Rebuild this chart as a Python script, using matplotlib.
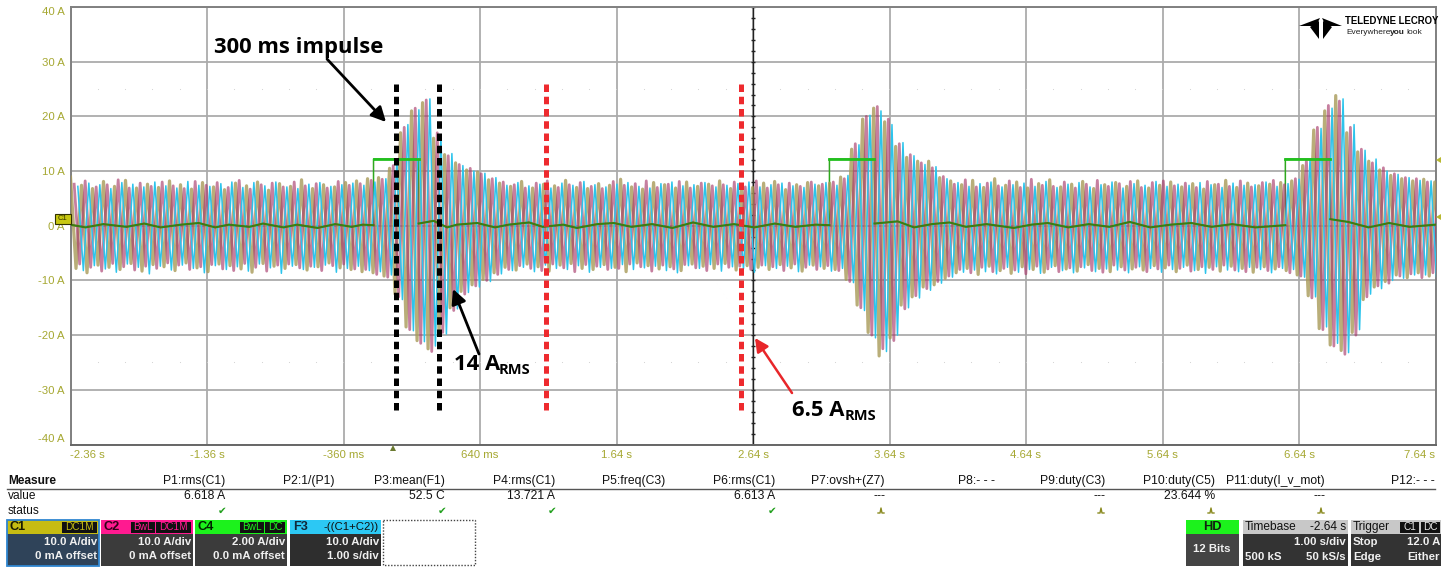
#Oscilloscope capture - motor phase currents with 300 ms impulses

import numpy as np
import matplotlib.pyplot as plt
from matplotlib.patches import Rectangle, Polygon

W, H = 1453, 567
plt.rcParams['font.family'] = ['Liberation Sans', 'DejaVu Sans']

#Axis values
y_ticks = [40, 30, 20, 10, 0, -10, -20, -30, -40]
y_labels = ['40 A', '30 A', '20 A', '10 A', '0 A', '-10 A', '-20 A', '-30 A', '-40 A']
x_ticks = [-2.36, -1.36, -0.36, 0.64, 1.64, 2.64, 3.64, 4.64, 5.64, 6.64, 7.64]
x_labels = ['-2.36 s', '-1.36 s', '-360 ms', '640 ms', '1.64 s', '2.64 s', '3.64 s', '4.64 s', '5.64 s', '6.64 s', '7.64 s']

#Peak of each electrical cycle (one value per cycle)
cycle_period = 0.0806
t_start = -2.36

c1_top = [8.9, 7.4, 6.8, 8.1, 7.2, 8.3, 6.9, 7.6, 7.0, 8.2, 7.5, 6.7, 7.9, 7.1, 6.6, 7.8, 7.3, 8.0, 6.5, 7.7, 7.2, 8.4, 6.8, 7.5, 7.1, 7.9, 8.2, 8.6,
          8.8, 10.5, 17.0, 21.0, 22.5, 16.0, 13.0, 11.5, 10.2, 9.8, 8.4,
          7.8, 7.2, 8.1, 6.9, 7.6, 7.3, 8.3, 7.0, 6.8, 7.7, 7.4, 8.5, 7.1, 6.7, 7.9, 7.5, 6.9, 8.0, 7.2, 7.6, 8.2, 6.8, 7.4, 7.0, 7.8, 8.1, 6.6, 7.5, 7.9, 7.3,
          7.8, 8.9, 14.0, 19.5, 21.5, 19.0, 14.5, 12.5, 11.8, 11.8, 8.8,
          8.2, 7.5, 8.3, 7.0, 8.6, 7.4, 8.0, 6.9, 7.7, 8.4, 7.1, 7.6, 8.1, 6.8, 7.5, 7.9, 7.2, 8.2, 6.9, 7.4, 8.0, 7.1, 7.7, 6.7, 7.5, 8.3, 7.0, 7.8, 7.3, 7.6, 7.9,
          8.2, 11.0, 17.5, 21.0, 23.8, 17.0, 13.5, 11.8, 10.2, 9.2, 8.6, 8.2, 8.5, 8.0]
c2_top = [7.6, 8.2, 7.1, 7.5, 8.4, 6.9, 7.8, 7.2, 8.0, 7.3, 6.8, 8.1, 7.4, 7.9, 7.0, 8.3, 6.7, 7.5, 7.8, 7.1, 8.0, 7.3, 7.7, 6.9, 8.1, 7.4, 7.7, 8.3,
          8.5, 11.0, 18.0, 21.5, 23.0, 17.0, 12.8, 11.2, 10.5, 9.5, 8.6,
          8.0, 7.5, 6.9, 7.8, 8.2, 7.0, 7.5, 7.9, 7.2, 6.8, 8.1, 7.4, 7.7, 8.2, 7.0, 7.6, 8.1, 6.9, 7.8, 7.3, 7.5, 8.0, 7.1, 8.2, 6.9, 7.5, 7.8, 7.2, 8.0, 7.6,
          8.0, 8.6, 15.0, 20.0, 21.8, 19.5, 15.0, 13.0, 11.5, 10.6, 9.0,
          7.6, 8.4, 7.1, 7.8, 7.3, 8.2, 7.0, 8.5, 7.4, 7.2, 8.0, 6.9, 7.6, 8.3, 7.2, 7.7, 8.1, 7.0, 7.9, 8.2, 7.3, 7.8, 7.0, 8.1, 7.6, 7.2, 8.2, 7.1, 7.9, 8.3, 7.5,
          8.6, 12.0, 18.0, 22.0, 22.8, 18.0, 14.0, 11.5, 10.6, 9.5, 8.8, 8.6, 8.0, 8.5]
f3_top = [7.2, 7.8, 7.5, 6.8, 7.9, 7.6, 7.1, 8.0, 7.3, 6.9, 8.1, 7.4, 7.2, 7.7, 8.0, 7.0, 7.9, 7.3, 8.0, 7.1, 6.8, 7.6, 7.9, 7.2, 7.5, 7.8, 7.4, 8.0,
          8.6, 12.0, 18.5, 21.2, 23.2, 16.5, 13.2, 11.0, 10.0, 9.6, 8.8,
          7.4, 7.9, 7.3, 7.6, 6.9, 7.8, 7.4, 8.1, 7.5, 7.1, 7.6, 7.9, 7.2, 6.9, 7.7, 8.0, 7.3, 7.5, 7.9, 7.1, 7.4, 7.7, 8.0, 7.1, 7.5, 7.8, 7.3, 7.0, 7.6, 7.9,
          7.4, 9.2, 14.8, 20.2, 21.0, 18.5, 15.2, 12.8, 11.2, 10.8, 8.6,
          7.9, 7.2, 7.7, 8.0, 7.1, 7.5, 7.8, 7.2, 8.1, 7.0, 7.6, 7.9, 7.1, 7.5, 8.0, 6.9, 7.7, 7.4, 8.1, 7.2, 7.6, 7.4, 7.9, 7.5, 7.0, 7.8, 7.4, 7.5, 8.0, 7.2, 7.7,
          8.5, 12.2, 17.8, 21.5, 23.2, 18.5, 13.8, 12.2, 10.0, 9.4, 8.8, 8.3, 8.2, 8.6]

c1_bot = [-7.8, -8.6, -7.2, -7.6, -8.0, -6.9, -8.3, -7.1, -7.5, -8.2, -6.8, -7.7, -8.4, -7.0, -7.3, -7.9, -8.5, -6.9, -7.4, -7.8, -7.1, -8.1, -7.5, -6.8, -7.7, -8.0, -8.4, -8.6,
          -9.2, -12.5, -18.5, -21.0, -22.5, -20.0, -15.0, -12.0, -10.8, -9.8, -8.6,
          -7.6, -8.1, -7.0, -7.5, -8.3, -7.2, -6.9, -7.8, -8.0, -7.1, -7.6, -8.4, -6.8, -7.3, -7.9, -7.5, -8.2, -7.0, -7.4, -7.8, -6.9, -8.1, -7.3, -7.6, -8.0, -7.1, -7.7, -8.3, -7.2, -7.8,
          -8.0, -9.8, -14.5, -19.5, -23.8, -20.5, -14.5, -13.0, -11.2, -10.8, -9.6,
          -8.6, -7.8, -8.9, -7.4, -8.2, -8.7, -7.5, -8.0, -8.5, -7.3, -7.9, -8.3, -7.1, -7.8, -8.4, -7.5, -7.9, -8.1, -7.3, -7.7, -8.4, -7.2, -8.0, -7.6, -8.3, -7.4, -7.8, -8.5, -7.5, -7.9, -8.2,
          -9.0, -12.8, -18.8, -21.8, -22.8, -19.5, -13.5, -11.2, -10.2, -9.0, -9.5, -8.6, -9.2, -8.8]
c2_bot = [-7.0, -7.6, -8.3, -6.9, -7.5, -8.1, -7.4, -7.8, -6.8, -7.2, -8.0, -7.5, -7.1, -7.9, -8.2, -6.9, -7.6, -8.3, -7.2, -7.0, -7.7, -7.4, -8.2, -7.3, -7.0, -7.9, -8.0, -8.9,
          -9.4, -13.0, -19.0, -21.5, -23.0, -19.5, -15.5, -12.5, -11.0, -10.0, -8.9,
          -8.0, -7.3, -7.8, -8.2, -7.0, -7.7, -8.4, -7.1, -7.4, -8.0, -7.8, -7.0, -7.5, -8.3, -7.2, -7.9, -7.1, -7.7, -8.2, -7.0, -7.6, -7.4, -8.0, -7.2, -7.5, -8.2, -7.0, -7.6, -8.0, -7.3,
          -8.2, -10.2, -15.0, -20.0, -22.5, -21.0, -15.2, -12.8, -11.5, -10.2, -9.2,
          -8.0, -8.6, -7.6, -8.4, -7.8, -8.1, -8.8, -7.4, -7.9, -8.4, -7.7, -7.5, -8.2, -8.5, -7.2, -8.1, -7.6, -8.4, -7.9, -7.2, -7.8, -8.3, -7.5, -8.0, -7.2, -8.1, -8.4, -7.6, -8.2, -7.5, -8.6,
          -9.2, -13.2, -19.0, -22.0, -23.5, -20.0, -13.0, -11.0, -10.5, -9.2, -8.8, -9.5, -8.6, -9.4]
f3_bot = [-8.2, -7.3, -7.9, -8.5, -7.0, -7.6, -8.8, -7.4, -8.1, -7.2, -7.8, -8.6, -7.3, -8.0, -7.5, -8.3, -7.0, -7.7, -8.7, -7.4, -8.0, -7.6, -7.2, -8.5, -7.8, -7.4, -8.2, -8.4,
          -9.0, -13.5, -19.2, -21.2, -22.0, -19.8, -15.2, -12.2, -11.2, -10.2, -8.8,
          -8.2, -7.6, -8.4, -7.2, -7.8, -8.0, -7.3, -8.5, -7.6, -7.8, -7.1, -8.0, -7.7, -7.4, -8.2, -8.6, -7.3, -7.8, -7.1, -8.3, -7.5, -7.9, -8.5, -7.3, -7.8, -7.4, -8.4, -7.2, -7.5, -8.3,
          -7.8, -10.4, -15.5, -20.5, -23.0, -20.0, -15.0, -13.2, -11.8, -10.5, -9.4,
          -8.5, -8.1, -8.4, -8.8, -7.6, -8.5, -8.0, -8.7, -7.6, -8.2, -8.6, -7.7, -8.4, -7.9, -8.1, -8.6, -7.5, -7.8, -8.5, -8.0, -7.6, -8.2, -8.7, -7.5, -8.1, -8.4, -7.6, -8.0, -8.6, -7.8, -8.0,
          -9.4, -13.0, -18.5, -21.5, -23.2, -19.0, -12.5, -11.5, -10.0, -9.6, -9.0, -9.0, -9.4, -8.5]

#C4 trace: flat part near zero plus the three pulses
c4_t = [-2.36, -2.25, -2.12, -1.95, -1.82, -1.7, -1.55, -1.42, -1.3, -1.2, -1.05, -0.95, -0.8, -0.7, -0.55, -0.42, -0.3, -0.22, -0.14, -0.14, 0.19, 0.19, 0.3, 0.4, 0.47, 0.62, 0.75, 0.85, 1.0, 1.1, 1.25, 1.35, 1.5, 1.62, 1.75, 1.9, 2.05, 2.2, 2.35, 2.5, 2.65, 2.8, 2.95, 3.1, 3.2, 3.2, 3.53, 3.53, 3.7, 3.82, 3.95, 4.08, 4.2, 4.35, 4.55, 4.68, 4.8, 4.95, 5.1, 5.25, 5.4, 5.55, 5.7, 5.85, 6.0, 6.15, 6.32, 6.54, 6.54, 6.87, 6.87, 7.0, 7.15, 7.3, 7.45, 7.64]
c4_v = [0.2, -0.3, 0.3, -0.2, 0.4, -0.3, 0.2, 0.5, -0.3, 0.2, -0.2, 0.4, -0.3, 0.2, -0.4, 0.3, -0.2, 0.2, 0.1, 12.2, 12.2, 0.4, 0.9, -0.3, 0.2, 0.5, -0.3, 0.2, 0.6, -0.2, 0.2, -0.4, 0.3, 0.5, -0.2, 0.3, -0.4, 0.6, -0.2, 0.3, -0.3, 0.4, -0.2, 0.2, 0.1, 12.2, 12.2, 0.4, 0.8, -0.3, 0.3, 0.6, -0.2, 0.3, -0.4, 0.2, 0.5, -0.3, 0.3, -0.2, 0.7, -0.3, 0.2, 0.5, -0.2, 0.3, -0.3, 0.1, 12.2, 12.2, 1.2, 0.7, -0.3, 0.5, -0.2, 0.2]

#Annotation values
impulse_lines = [0.023, 0.338]
rms_lines = [1.122, 2.552]
dash_top, dash_bottom = 26.3, -33.6

#Measurement table
measure_names = ['P1:rms(C1)', 'P2:1/(P1)', 'P3:mean(F1)', 'P4:rms(C1)', 'P5:freq(C3)', 'P6:rms(C1)', 'P7:ovsh+(Z7)', 'P8:- - -', 'P9:duty(C3)', 'P10:duty(C5)', 'P11:duty(I_v_mot)', 'P12:- - -']
measure_values = ['6.618 A', '', '52.5 C', '13.721 A', '', '6.613 A', '---', '', '---', '23.644 %', '---', '']
measure_status = ['ok', '', 'ok', 'ok', '', 'ok', 'pulse', '', 'pulse', 'pulse', 'pulse', '']


def zigzag(top, bot, phase):
    #top peak then bottom peak half a cycle later
    n = min(len(top), len(bot))
    t = t_start + phase + np.arange(n) * cycle_period
    xs = np.column_stack([t, t + cycle_period / 2]).ravel()
    ys = np.column_stack([top[:n], bot[:n]]).ravel()
    return xs, ys


fig = plt.figure(figsize=(W / 100, H / 100), dpi=100)
ax = fig.add_axes([70.5 / W, 1 - 444.5 / H, 1365 / W, 437.5 / H])
ax.set_xlim(-2.36, 7.64)
ax.set_ylim(-40, 40)

ax.set_xticks(x_ticks)
ax.set_xticklabels(x_labels, fontsize=8.2, color='#a6a832')
ax.set_yticks(y_ticks)
ax.set_yticklabels(y_labels, fontsize=8.2, color='#a6a832')
ax.tick_params(length=0, pad=4)
ax.grid(True, color='#ababab', linewidth=1.3)
ax.set_axisbelow(True)
for s in ax.spines.values():
    s.set_color('#808080')
    s.set_linewidth(1.4)
ax.spines['bottom'].set_color('#666666')

labels = ax.get_xticklabels()
labels[0].set_ha('left')
labels[-1].set_ha('right')
ylabs = ax.get_yticklabels()
ylabs[0].set_va('top')
ylabs[-1].set_va('bottom')

#Faint division dots
ax.scatter(np.arange(-2.16, 7.6, 0.2), np.full(49, 25), s=0.6, color='#d0d0d0', linewidths=0)
ax.scatter(np.arange(-2.16, 7.6, 0.2), np.full(49, -25), s=0.6, color='#d0d0d0', linewidths=0)

#C4 under the currents, so only the pulse edges above them show
c4_v_arr = np.array(c4_v)
ax.plot(c4_t, c4_v, color='#2fa81e', linewidth=1.1, zorder=2.8)

#Phase currents
ax.plot(*zigzag(c1_top, c1_bot, 0.0), color='#a89a58', linewidth=2.3, alpha=0.8, zorder=3)
ax.plot(*zigzag(c2_top, c2_bot, cycle_period / 3), color='#a83a6c', linewidth=2.0, alpha=0.65, zorder=3.1)
ax.plot(*zigzag(f3_top, f3_bot, 2 * cycle_period / 3), color='#2cc4ec', linewidth=1.1, alpha=1.0, zorder=3.2)

#C4 flat part and pulse tops on top of the currents
ax.plot(c4_t, np.where(c4_v_arr > 5, np.nan, c4_v_arr), color='#3d7d12', linewidth=1.5, zorder=4)
for a, b in [(-0.14, 0.19), (3.2, 3.53), (6.54, 6.87)]:
    ax.plot([a, b], [12.2, 12.2], color='#22c01e', linewidth=2, zorder=4.1)

#Center cross
ax.axvline(2.64, color='#222222', linewidth=1, zorder=2)
ax.plot(np.full(41, 2.64), np.arange(-40, 40.5, 2), linestyle='none', marker='_', markersize=3, color='#222222', zorder=2)

#Impulse and RMS window markers
ax.vlines(impulse_lines, dash_bottom, dash_top, color='black', linewidth=3.6, linestyles=(0, (1.5, 0.95)), zorder=6)
ax.vlines(rms_lines, dash_bottom, dash_top, color='#ee2a2e', linewidth=3.6, linestyles=(0, (1.5, 0.95)), zorder=6)

#Overlay in pixel coordinates for labels, logo and status bar
ov = fig.add_axes([0, 0, 1, 1])
ov.set_xlim(0, W)
ov.set_ylim(H, 0)
ov.axis('off')
ov.patch.set_alpha(0)

note = ['Open Sans', 'DejaVu Sans']
ov.text(214, 47, '300 ms impulse', fontsize=15.8, fontweight='bold', family=note, va='center', color='black')
ov.annotate('', xy=(386, 122), xytext=(327, 59), arrowprops=dict(arrowstyle='-|>', color='black', lw=2, mutation_scale=22, shrinkA=0, shrinkB=0))
ov.text(454, 364, '14 A', fontsize=15.8, fontweight='bold', family=note, va='center', color='black')
ov.text(499, 370, 'RMS', fontsize=10.5, fontweight='bold', family=note, va='center', color='black')
ov.annotate('', xy=(453, 289), xytext=(479, 354), arrowprops=dict(arrowstyle='-|>', color='black', lw=2, mutation_scale=22, shrinkA=0, shrinkB=0))
ov.text(792, 410, '6.5 A', fontsize=15.8, fontweight='bold', family=note, va='center', color='black')
ov.text(845, 416, 'RMS', fontsize=10.5, fontweight='bold', family=note, va='center', color='black')
ov.annotate('', xy=(755, 338), xytext=(792, 393), arrowprops=dict(arrowstyle='-|>', color='#e8262a', lw=1.8, mutation_scale=20, shrinkA=0, shrinkB=0))

#Channel and trigger markers
ov.add_patch(Rectangle((55, 214), 16, 10, facecolor='#c8c810', edgecolor='#333300', linewidth=0.8, zorder=8))
ov.text(63, 219, 'C1', fontsize=5.5, ha='center', va='center', color='#333300', zorder=9)
ov.add_patch(Polygon([(390, 451), (396, 451), (393, 445)], facecolor='#6b7a30'))
for y in [160, 217]:
    ov.add_patch(Polygon([(1436, y), (1441, y - 3), (1441, y + 3)], facecolor='#b8b830'))

#Logo
ov.add_patch(Polygon([(1299, 26), (1320, 18), (1316, 26)], facecolor='black'))
ov.add_patch(Polygon([(1342, 26), (1322, 18), (1326, 26)], facecolor='black'))
ov.add_patch(Polygon([(1310, 27), (1319, 21), (1319, 39)], facecolor='black'))
ov.add_patch(Polygon([(1332, 27), (1323, 21), (1323, 39)], facecolor='black'))
ov.text(1345, 21, 'TELEDYNE LECROY', fontsize=6.9, fontweight='bold', va='center', color='black')
ov.text(1346, 32, 'Everywhere', fontsize=6, va='center', color='#222222')
ov.text(1390, 32, 'you', fontsize=6, fontweight='bold', va='center', color='#222222')
ov.text(1406, 32, 'look', fontsize=6, va='center', color='#222222')

#Measure table
ov.text(8, 481, 'Measure', fontsize=8.6, fontweight='bold', va='center', color='#111111')
ov.text(8, 496, 'value', fontsize=8.6, va='center', color='#111111')
ov.text(8, 511, 'status', fontsize=8.6, va='center', color='#111111')
ov.plot([7, 1435], [488.5, 488.5], color='#555555', linewidth=1)
for i, name in enumerate(measure_names):
    right = 225 + 110 * i
    ov.text(right, 481, name, fontsize=8.7, ha='right', va='center', color='#111111')
    ov.text(right, 496, measure_values[i], fontsize=8.7, ha='right', va='center', color='#111111')
    if measure_status[i] == 'ok':
        ov.text(right - 3, 511, '\u2714', fontsize=7.5, family='DejaVu Sans', ha='center', va='center', color='#22a01e')
    elif measure_status[i] == 'pulse':
        cx = right - 4
        ov.plot([cx - 3, cx - 1, cx, cx + 1, cx + 3], [513, 513, 508, 513, 513], color='#8a8a20', linewidth=1)


def panel(x0, x1, head_col, body_col, edge=None):
    ov.add_patch(Rectangle((x0, 520), x1 - x0, 14, facecolor=head_col, edgecolor='none'))
    ov.add_patch(Rectangle((x0, 534), x1 - x0, 32, facecolor=body_col, edgecolor='none'))
    if edge:
        ov.add_patch(Rectangle((x0, 520), x1 - x0, 46, facecolor='none', edgecolor=edge, linewidth=1.3, zorder=5))


def tag(x0, x1, txt, col):
    ov.add_patch(Rectangle((x0, 521.5), x1 - x0, 11, facecolor='#111111', edgecolor='none', zorder=6))
    ov.text((x0 + x1) / 2, 527, txt, fontsize=7.2, ha='center', va='center', color=col, zorder=7)


#Channel boxes
channels = [(7, 99, '#c6bc12', '#2f4359', 'C1', '#1a1a00', '10.0 A/div', '0 mA offset'),
            (101, 193, '#ff1a90', '#3b3b3b', 'C2', '#300018', '10.0 A/div', '0 mA offset'),
            (195, 287, '#1cf21c', '#3b3b3b', 'C4', '#002200', '2.00 A/div', '0.0 mA offset'),
            (290, 381, '#2cc8f4', '#2e2e2e', 'F3', '#10283a', '10.0 A/div', '1.00 s/div')]
for x0, x1, hc, bc, name, nc, l1, l2 in channels:
    panel(x0, x1, hc, bc, '#2f86d0' if name == 'C1' else None)
    ov.text(x0 + 3, 527, name, fontsize=9.2, fontweight='bold', va='center', color=nc, zorder=7)
    ov.text(x1 - 2, 542, l1, fontsize=8.2, fontweight='bold', ha='right', va='center', color='#f0f0f0', zorder=7)
    ov.text(x1 - 2, 556, l2, fontsize=8.2, fontweight='bold', ha='right', va='center', color='#f0f0f0', zorder=7)
tag(62, 97, 'DC1M', '#c6bc12')
tag(131, 155, 'BwL', '#ff1a90')
tag(156, 191, 'DC1M', '#ff1a90')
tag(240, 264, 'BwL', '#1cf21c')
tag(265, 285, 'DC', '#1cf21c')
ov.text(379, 527, '-((C1+C2))', fontsize=8.2, ha='right', va='center', color='#101010', zorder=7)
ov.add_patch(Rectangle((383, 520), 92, 45, facecolor='none', edgecolor='#444444', linewidth=1, linestyle=(0, (1, 1.2))))

#Acquisition boxes
panel(1186, 1239, '#1cf21c', '#444444')
ov.text(1212, 527, 'HD', fontsize=9.2, fontweight='bold', ha='center', va='center', color='#102010', zorder=7)
ov.text(1212, 549, '12 Bits', fontsize=8.2, fontweight='bold', ha='center', va='center', color='#f0f0f0', zorder=7)

panel(1243, 1348, '#c8c8c8', '#333333')
ov.text(1245, 527, 'Timebase', fontsize=8.6, va='center', color='#111111', zorder=7)
ov.text(1346, 527, '-2.64 s', fontsize=8.6, ha='right', va='center', color='#111111', zorder=7)
ov.text(1346, 542, '1.00 s/div', fontsize=8.2, fontweight='bold', ha='right', va='center', color='#f0f0f0', zorder=7)
ov.text(1245, 557, '500 kS', fontsize=8.2, fontweight='bold', va='center', color='#f0f0f0', zorder=7)
ov.text(1346, 557, '50 kS/s', fontsize=8.2, fontweight='bold', ha='right', va='center', color='#f0f0f0', zorder=7)

panel(1351, 1441, '#c8c8c8', '#333333')
ov.text(1353, 527, 'Trigger', fontsize=8.6, va='center', color='#111111', zorder=7)
tag(1400, 1419, 'C1', '#e8e8e8')
tag(1421, 1440, 'DC', '#e8e8e8')
ov.text(1353, 542, 'Stop', fontsize=8.2, fontweight='bold', va='center', color='#f0f0f0', zorder=7)
ov.text(1440, 542, '12.0 A', fontsize=8.2, fontweight='bold', ha='right', va='center', color='#f0f0f0', zorder=7)
ov.text(1353, 557, 'Edge', fontsize=8.2, fontweight='bold', va='center', color='#f0f0f0', zorder=7)
ov.text(1440, 557, 'Either', fontsize=8.2, fontweight='bold', ha='right', va='center', color='#f0f0f0', zorder=7)

fig.savefig('out.png', dpi=100)
